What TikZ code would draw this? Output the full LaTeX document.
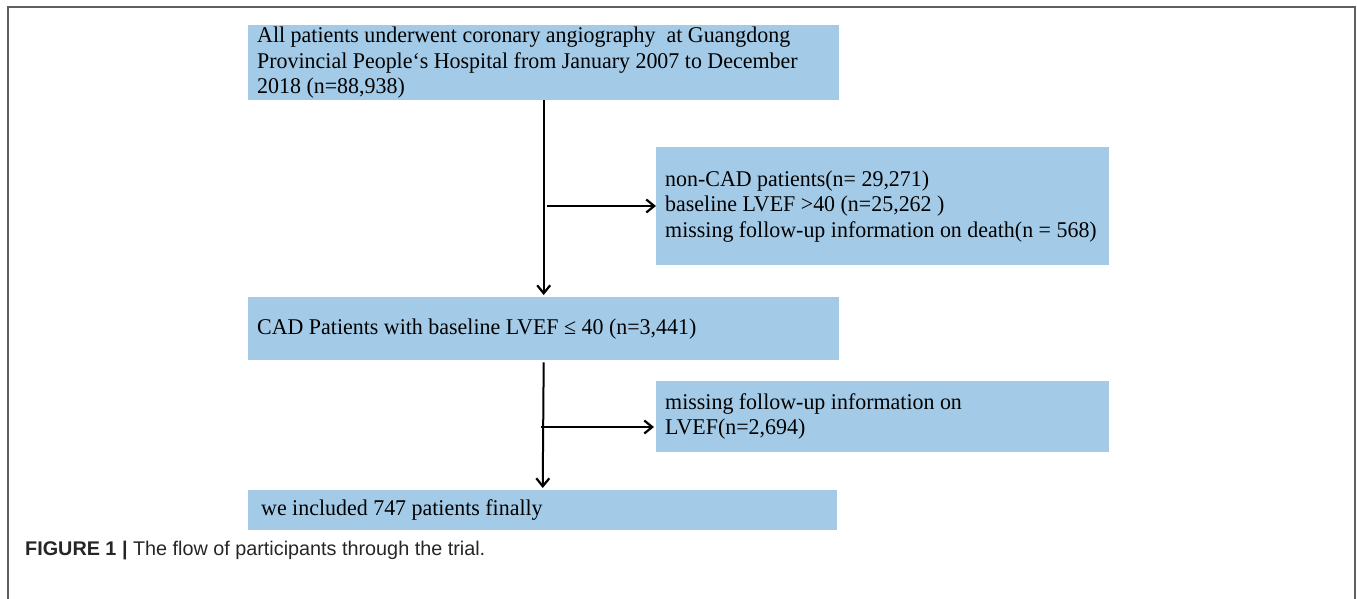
\documentclass[tikz,border=0pt]{standalone}
\usepackage{fontspec}
\setmainfont{Liberation Serif}[FakeStretch=0.975]
\setsansfont{Liberation Sans}
\usetikzlibrary{arrows.meta}
\definecolor{boxblue}{RGB}{163,203,231}
\definecolor{framegray}{RGB}{95,95,95}

\begin{document}
\begin{tikzpicture}[x=1pt, y=-1pt,
    flowbox/.style = {fill         = boxblue,
                      anchor       = north west,
                      align        = flush left,
                      inner xsep   = 9pt,
                      inner ysep   = 0pt,
                      font         = \fontsize{22.5}{25.5}\selectfont},
    flowarrow/.style = {line width = 2pt,
                        -{Straight Barb[length=8pt,width=13pt,line width=2.2pt]}}]
  \useasboundingbox (0,0) rectangle (1357,598);
  \draw[framegray, line width=2pt] (8,600) -- (8,6.5) -- (1355,6.5) -- (1355,600);
  \node [flowbox, text width=573pt, minimum height=75pt] (all) at (248,25)
    {All patients underwent coronary angiography~ at Guangdong\\
     Provincial People‘s Hospital from January 2007 to December\\
     2018 (n=88,938)};
  \node [flowbox, text width=435pt, minimum height=118pt] (excl) at (656,147)
    {non-CAD patients(n=~29,271)\\
     baseline LVEF >40 (n=25,262~)\\
     missing follow-up information on death(n~=~568)};
  \node [flowbox, text width=573pt, minimum height=63pt] (cad) at (248,297)
    {CAD Patients with baseline LVEF ≤ 40 (n=3,441)};
  \node [flowbox, text width=435pt, minimum height=71pt] (miss) at (656,381)
    {missing follow-up information on\\
     LVEF(n=2,694)};
  \node [flowbox, inner xsep=13pt, text width=563pt, minimum height=40pt] (final) at (248,490)
    {we included 747 patients finally};
  \coordinate (split1) at (547,206);
  \coordinate (split2) at (541,427);
  \draw[flowarrow, shorten >=2pt] (all.south) -- (cad.north);
  \draw[flowarrow] (split1) -- (split1 -| excl.west);
  \draw[flowarrow, shorten <=2pt, shorten >=2pt] (cad.south) -- (final.north);
  \draw[flowarrow, shorten >=2pt] (split2) -- (split2 -| miss.west);
  \node [anchor=base west, inner xsep=0pt, font=\sffamily\fontsize{19.8}{22}\selectfont, text=black!85] (caption) at (25,555)
    {\textbf{FIGURE 1 |} The flow of participants through the trial.};
\end{tikzpicture}
\end{document}
